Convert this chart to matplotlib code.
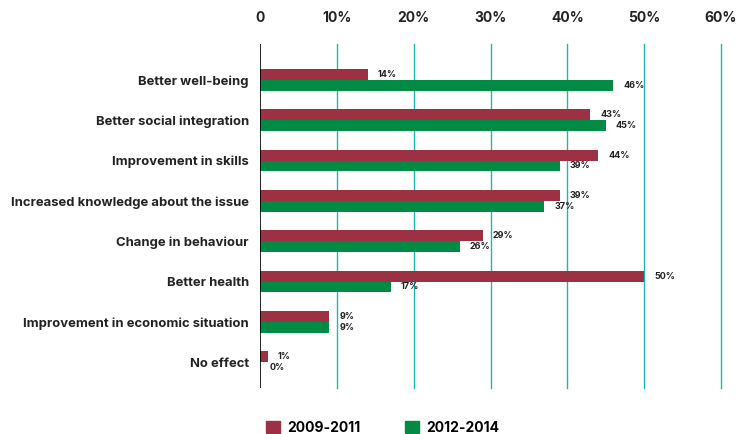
import numpy as np
import matplotlib.pyplot as plt
from matplotlib.patches import Patch

plt.rcParams['font.family'] = ['Inter', 'DejaVu Sans']

# data
categories = ['Better well-being', 'Better social integration', 'Improvement in skills',
              'Increased knowledge about the issue', 'Change in behaviour', 'Better health',
              'Improvement in economic situation', 'No effect']
y2009 = [14, 43, 44, 39, 29, 50, 9, 1]
y2012 = [46, 45, 39, 37, 26, 17, 9, 0]
ticks = [0, 10, 20, 30, 40, 50, 60]
tick_labels = ['0', '10%', '20%', '30%', '40%', '50%', '60%']

red = '#9c3143'
green = '#008a43'
teal = '#1ab8b0'

fig = plt.figure(figsize=(7.36, 4.34), dpi=100)
ax = fig.add_axes([0.3533, 0.106, 0.6263, 0.7926])

y = np.arange(len(categories))
h = 0.27
ax.barh(y - h / 2, y2009, height=h, color=red, zorder=3)
ax.barh(y + h / 2, y2012, height=h, color=green, zorder=3)

for i in range(len(categories)):
    ax.text(y2009[i] + 1.3, y[i] - h / 2, f'{y2009[i]}%', va='center', ha='left',
            fontsize=6.5, fontweight='bold', color='#222222')
    ax.text(y2012[i] + 1.3, y[i] + h / 2, f'{y2012[i]}%', va='center', ha='left',
            fontsize=6.5, fontweight='bold', color='#222222')

ax.set_xlim(0, 60)
ax.set_ylim(len(categories) - 1 + 0.64, -0.89)
ax.set_xticks(ticks)
ax.set_xticklabels(tick_labels, fontsize=10, fontweight='bold', color='#222222')
ax.xaxis.tick_top()
ax.tick_params(axis='x', length=0, pad=14)
ax.set_yticks(y)
ax.set_yticklabels(categories, fontsize=9.4, fontweight='bold', color='#222222')
ax.tick_params(axis='y', length=0, pad=8)

for t in ticks[1:]:
    ax.axvline(t, color=teal, lw=1, zorder=1, clip_on=False)
ax.axvline(0, color='black', lw=1.2, zorder=4)

for s in ax.spines.values():
    s.set_visible(False)

handles = [Patch(color=red, label='2009-2011'), Patch(color=green, label='2012-2014')]
fig.legend(handles=handles, loc='lower left', bbox_to_anchor=(0.345, -0.03), ncol=2,
           frameon=False, prop={'weight': 'bold', 'size': 10}, handlelength=1.0,
           handleheight=1.0, columnspacing=3.2, handletextpad=0.5)

fig.savefig('out.png', dpi=100)
